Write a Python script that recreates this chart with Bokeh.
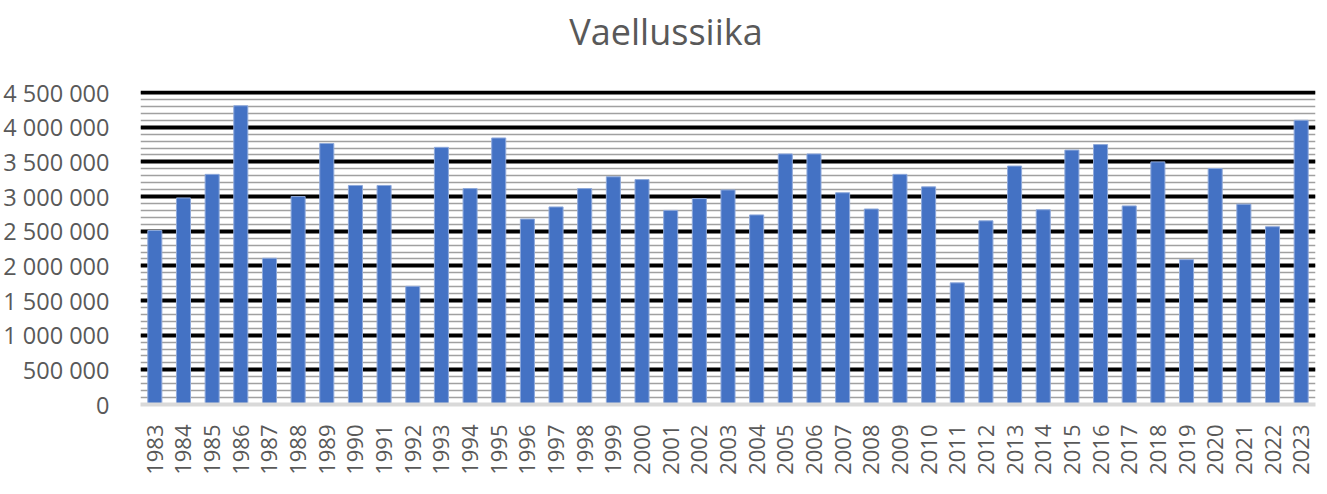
from bokeh.plotting import figure
from bokeh.layouts import column
from bokeh.models import FactorRange, Range1d, SingleIntervalTicker, CustomJSTickFormatter
from bokeh.core.properties import value
from bokeh.embed import file_html
from bokeh.resources import INLINE
import math

years = [str(y) for y in range(1983, 2024)]
values = [
    2510000, 2980000, 3320000, 4310000, 2110000, 3000000, 3765000, 3160000, 3160000, 1705000,
    3710000, 3115000, 3845000, 2675000, 2850000, 3115000, 3285000, 3245000, 2800000, 2970000,
    3095000, 2735000, 3615000, 3615000, 3055000, 2820000, 3320000, 3140000, 1755000, 2650000,
    3440000, 2810000, 3670000, 3750000, 2865000, 3500000, 2090000, 3405000, 2890000, 2565000,
    4100000,
]
title_text = "Vaellussiika"

FONT = "Open Sans"
GREY_TEXT = "#595959"

W = 1317
LEFT = 140
RIGHT = 2
FRAME_W = W - LEFT - RIGHT
TITLE_H = 56

# ---- title strip (its own small svg figure, pixel coordinates in the frame) ----
t = figure(
    width=W, height=TITLE_H,
    frame_width=FRAME_W, frame_height=TITLE_H,
    x_range=Range1d(0, FRAME_W), y_range=Range1d(0, TITLE_H),
    min_border_left=LEFT, min_border_right=RIGHT, min_border_top=0, min_border_bottom=0,
    output_backend="svg", toolbar_location=None,
    x_axis_location=None, y_axis_location=None,
    background_fill_color="white", border_fill_color="white",
)
t.outline_line_color = None
t.grid.visible = False
t.text(x=[667.5 - LEFT - 2], y=[TITLE_H - 31], text=[title_text],
       text_align="center", text_baseline="alphabetic",
       text_font=value(FONT), text_font_size="36px", text_color=GREY_TEXT)

# ---- main chart ----
Y_MAX = 4530000
p = figure(
    x_range=FactorRange(*years),
    y_range=Range1d(0, Y_MAX),
    width=W, height=486 - TITLE_H,
    frame_width=FRAME_W, frame_height=314,
    min_border_left=LEFT, min_border_right=RIGHT, min_border_top=90 - TITLE_H, min_border_bottom=82,
    output_backend="svg", toolbar_location=None,
    background_fill_color="white", border_fill_color="white",
)
p.outline_line_color = None

p.vbar(x=years, top=values, width=0.49, fill_color="#4472C4",
       line_color="#8EA9DB", line_width=1)

# y axis
yaxis = p.yaxis[0]
yaxis.ticker = SingleIntervalTicker(interval=500000, num_minor_ticks=5)
yaxis.formatter = CustomJSTickFormatter(code="""
    return Math.round(tick).toString().replace(/\\B(?=(\\d{3})+(?!\\d))/g, " ");
""")
yaxis.axis_line_color = None
yaxis.major_tick_line_color = None
yaxis.minor_tick_line_color = None
yaxis.major_label_text_font = FONT
yaxis.major_label_text_font_size = "23.5px"
yaxis.major_label_text_color = GREY_TEXT
yaxis.major_label_standoff = 25

# x axis
xaxis = p.xaxis[0]
xaxis.axis_line_color = "#D9D9D9"
xaxis.axis_line_width = 4
xaxis.major_tick_line_color = None
xaxis.minor_tick_line_color = None
xaxis.major_label_orientation = math.pi / 2
xaxis.major_label_text_font = FONT
xaxis.major_label_text_font_size = "22px"
xaxis.major_label_text_color = GREY_TEXT
xaxis.major_label_standoff = 14

# grids
p.xgrid.grid_line_color = None
p.ygrid.grid_line_color = "black"
p.ygrid.grid_line_width = 4
p.ygrid.minor_grid_line_color = "#A0A0A0"
p.ygrid.minor_grid_line_width = 1.5

layout = column(t, p, spacing=0)
open("out.html", "w").write(file_html(layout, INLINE))
